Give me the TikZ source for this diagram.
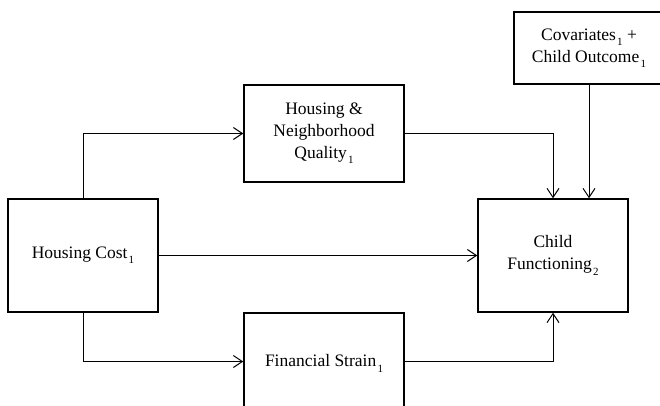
\documentclass[tikz,border=0pt]{standalone}
\usepackage{fontspec}
\setmainfont{Liberation Serif}
\usetikzlibrary{arrows.meta}
\newcommand\subidx[1]{\kern1.2pt\raisebox{-0.65ex}{\fontsize{11}{11}\selectfont #1}}
\begin{document}
\begin{tikzpicture}[x=1pt,y=-1pt,
  boxnode/.style={draw, line width=1.5pt, inner sep=0pt, align=center,
    font=\fontsize{17.5}{22}\selectfont},
  conn/.style={line width=1pt, -{Straight Barb[length=9pt,width=12pt,line width=1pt]}}]
\useasboundingbox (0,0) rectangle (660,406);
\clip (0,0) rectangle (660,406);
\fill[white] (0,0) rectangle (660,406);
\node[boxnode, minimum width=150pt, minimum height=113pt] (hc) at (83,255.5) {Housing Cost\subidx{1}};
\node[boxnode, minimum width=160pt, minimum height=97pt] (hnq) at (324,133.5) {Housing \&\\Neighborhood\\Quality\subidx{1}};
\node[boxnode, minimum width=150pt, minimum height=72pt] (cov) at (589,48) {Covariates\subidx{1} +\\Child Outcome\subidx{1}};
\node[boxnode, minimum width=150pt, minimum height=113pt] (cf) at (553,255.5) {Child\\Functioning\subidx{2}};
\node[boxnode, minimum width=160pt, minimum height=97pt, text depth=0pt] (fs) at (324,361.5) {\raisebox{1.5pt}{Financial Strain\subidx{1}}};
\draw[conn] (hc.north) |- (hnq.west);
\draw[conn] (hc.south) |- (fs.west);
\draw[conn] (hc.east) -- (cf.west);
\draw[conn] (hnq.east) -| (cf.north);
\draw[conn] (cov.south) -- (cov.south |- cf.north);
\draw[conn] (fs.east) -| (cf.south);
\end{tikzpicture}
\end{document}
